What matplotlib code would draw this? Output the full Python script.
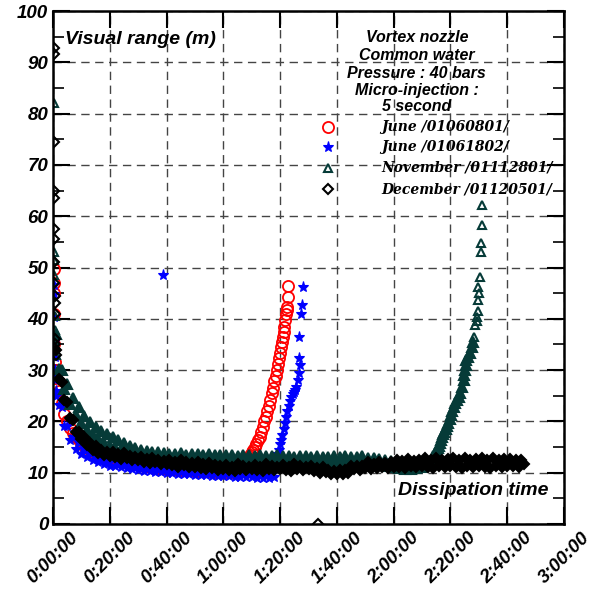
import numpy as np
import matplotlib.pyplot as plt
from matplotlib.ticker import FuncFormatter, MultipleLocator

# time in minutes after the micro-injection, visual range in m

# --- June /01060801/ (red circles)
red_t0 = [0.3, 0.3, 0.4, 0.5, 0.5, 0.6, 0.7, 0.8]
red_v0 = [49.8, 47.0, 45.0, 41.0, 35.0, 31.5, 30.0, 28.5]
red_t1 = list(range(1, 69))
red_v1 = [30.0, 26.0, 23.5, 21.5, 20.0, 18.8, 17.8, 17.0, 16.3, 15.7,
          15.2, 14.8, 14.4, 14.1, 13.8, 13.6, 13.4, 13.2, 13.0, 12.9,
          12.7, 12.6, 12.4, 12.3, 12.1, 12.0, 11.9, 11.8, 11.7, 11.6,
          11.5, 11.4, 11.3, 11.2, 11.1, 11.0, 11.0, 10.9, 10.9, 10.8,
          10.8, 10.7, 10.7, 10.6, 10.6, 10.6, 10.5, 10.5, 10.5, 10.4,
          10.4, 10.4, 10.3, 10.3, 10.3, 10.3, 10.2, 10.2, 10.2, 10.2,
          10.2, 10.2, 10.2, 10.2, 10.2, 10.3, 10.4, 10.6]
red_t2 = [68.5, 69.0, 69.5, 70.0, 70.5, 71.0, 71.5, 72.2, 72.8, 73.4,
          74.0, 74.5, 75.0, 75.5, 76.0, 76.5, 77.0, 77.5, 78.0, 78.5,
          79.0, 79.4, 79.7, 80.0, 80.3, 80.6, 80.9, 81.2, 81.4, 81.7,
          82.0, 82.3, 82.5, 82.8, 82.8]
red_v2 = [12.0, 12.8, 13.5, 14.0, 14.4, 15.0, 15.6, 16.3, 17.0, 18.0,
          19.0, 20.0, 20.9, 22.0, 23.0, 24.2, 25.5, 26.6, 27.8, 28.9,
          30.0, 31.2, 32.3, 33.4, 34.5, 35.5, 36.5, 37.5, 38.4, 39.7,
          41.0, 41.7, 42.3, 44.2, 46.4]

# --- June /01061802/ (blue stars)
blue_t0 = [0.3, 0.3, 0.4, 0.5, 0.6, 0.7, 0.8, 0.9, 1.2]
blue_v0 = [46.5, 44.8, 40.3, 35.5, 32.5, 30.0, 28.0, 26.0, 25.0]
blue_t1 = list(range(1, 79))
blue_v1 = [28.8, 23.2, 22.8, 19.2, 19.1, 16.4, 17.0, 14.7, 15.7, 13.6,
           14.6, 13.1, 13.9, 12.4, 13.4, 12.0, 13.0, 11.7, 12.7, 11.4,
           12.4, 11.3, 12.2, 11.1, 12.0, 10.9, 11.8, 10.7, 11.6, 10.5,
           11.4, 10.4, 11.3, 10.3, 11.2, 10.2, 11.1, 10.1, 11.0, 10.0,
           10.9, 9.9, 10.8, 9.8, 10.7, 9.8, 10.7, 9.7, 10.6, 9.6,
           10.5, 9.6, 10.5, 9.5, 10.4, 9.4, 10.3, 9.4, 10.3, 9.3,
           10.2, 9.3, 10.2, 9.2, 10.1, 9.2, 10.1, 9.1, 10.0, 9.1,
           10.0, 9.0, 9.9, 9.0, 9.9, 9.0, 9.8, 9.2]
blue_t2 = [38.6, 78.6, 79.0, 79.5, 80.0, 80.4, 80.8, 81.2, 81.6, 82.0,
           82.5, 83.0, 83.5, 83.9, 84.4, 84.8, 85.2, 85.6, 86.2, 86.7,
           86.9, 86.7, 86.7, 87.4, 87.7, 88.0]
blue_v2 = [48.5, 13.0, 13.7, 14.5, 15.5, 16.4, 17.4, 18.5, 19.7, 20.9,
           22.0, 23.0, 24.0, 24.8, 25.3, 25.8, 26.2, 26.7, 28.0, 29.4,
           31.0, 32.4, 36.5, 41.0, 42.7, 46.2]

# --- November /01112801/ (dark teal triangles)
teal_t0 = [0.4, 0.3, 0.4, 0.5, 0.6, 0.7, 0.8, 0.9]
teal_v0 = [82.0, 53.0, 51.5, 48.5, 40.5, 37.8, 35.0, 33.0]
teal_t1 = list(range(1, 131))
teal_v1 = [37.0, 30.3, 30.0, 26.3, 27.2, 23.3, 24.5, 21.3, 22.8, 19.6,
           21.1, 18.4, 19.9, 17.3, 18.9, 16.5, 18.1, 15.8, 17.5, 15.2,
           16.9, 14.8, 16.3, 14.2, 15.7, 13.7, 15.3, 13.3, 14.9, 13.0,
           14.5, 13.0, 14.3, 12.8, 14.1, 12.6, 14.0, 12.5, 13.9, 12.4,
           13.7, 12.4, 13.6, 12.3, 13.8, 12.3, 13.5, 12.2, 13.6, 12.3,
           13.6, 12.2, 13.5, 12.3, 13.7, 12.1, 13.4, 12.2, 13.5, 12.2,
           13.4, 12.2, 13.5, 12.1, 13.3, 12.2, 13.4, 12.1, 13.5, 12.2,
           13.3, 12.1, 13.4, 12.0, 13.2, 12.1, 13.3, 12.0, 13.4, 12.1,
           13.2, 12.0, 13.3, 11.9, 13.1, 12.0, 13.2, 11.9, 13.3, 12.0,
           13.1, 11.9, 13.2, 11.8, 13.0, 11.9, 13.1, 11.8, 13.2, 11.9,
           13.1, 11.9, 13.2, 11.8, 13.0, 11.9, 13.1, 11.8, 13.2, 11.9,
           12.9, 11.7, 12.8, 11.6, 12.6, 11.5, 12.5, 11.3, 12.3, 11.2,
           12.0, 11.0, 11.8, 10.8, 11.7, 10.8, 11.6, 10.9, 11.8, 11.2]
teal_t2 = [131.0, 132.0, 133.3, 134.0, 134.7, 135.1, 135.5, 135.9, 136.3, 136.8,
           137.2, 137.5, 137.9, 138.3, 138.8, 139.3, 139.8, 140.2, 140.7, 141.1,
           141.7, 142.3, 142.9, 143.5, 144.1, 144.6, 144.9, 145.1, 145.4, 145.6,
           146.3, 147.0, 147.5, 148.0]
teal_v2 = [11.5, 12.0, 12.5, 13.2, 13.8, 14.3, 14.8, 15.3, 15.8, 16.4,
           17.0, 17.5, 18.0, 18.6, 19.2, 19.7, 20.4, 21.2, 22.0, 22.8,
           23.5, 24.2, 24.8, 25.5, 26.8, 28.1, 29.0, 30.0, 31.0, 32.0,
           32.6, 33.3, 34.5, 35.5]
teal_t3 = [148.4, 148.8, 149.2, 149.5, 149.6, 149.8, 149.9, 149.8, 150.5, 150.9,
           150.9, 151.2, 151.2]
teal_v3 = [36.5, 38.8, 39.5, 40.4, 41.5, 43.7, 45.0, 46.2, 48.1, 53.0,
           54.8, 58.3, 62.2]

# --- December /01120501/ (black diamonds)
black_t0 = [0.3, 0.3, 0.4, 0.3, 0.4, 0.3, 0.4, 0.5, 0.5, 0.6, 0.6, 0.7, 0.8, 0.8, 0.9, 93.3]
black_v0 = [92.8, 91.6, 74.5, 65.0, 63.5, 57.5, 55.5, 51.0, 47.0, 44.5,
            43.0, 41.0, 36.0, 35.0, 33.0, 0.0]
black_t1 = list(range(1, 167))
black_v1 = [34.0, 28.2, 27.6, 24.2, 23.8, 20.6, 20.2, 18.0, 18.0, 16.6,
            17.0, 15.4, 15.7, 14.5, 15.3, 13.9, 14.5, 13.5, 14.0, 13.3,
            14.1, 13.1, 13.6, 12.7, 13.8, 12.9, 13.3, 12.4, 13.0, 12.4,
            13.1, 12.1, 12.7, 11.8, 12.9, 12.1, 12.5, 11.6, 12.3, 11.7,
            12.5, 11.5, 12.1, 11.2, 12.4, 11.5, 12.0, 11.1, 11.8, 11.2,
            12.0, 11.0, 11.6, 10.7, 11.9, 11.0, 11.5, 10.6, 11.3, 10.8,
            11.5, 10.6, 11.2, 10.4, 11.6, 10.8, 11.3, 10.5, 11.1, 10.7,
            11.5, 10.6, 11.2, 10.4, 11.6, 10.8, 11.3, 10.5, 11.1, 10.7,
            11.5, 10.6, 11.2, 10.4, 11.6, 10.8, 11.3, 10.5, 11.1, 10.7,
            11.4, 10.4, 10.9, 10.0, 11.1, 10.2, 10.6, 9.7, 10.4, 9.8,
            10.6, 9.8, 10.5, 9.9, 11.3, 10.7, 11.3, 10.6, 11.4, 11.0,
            12.0, 10.8, 11.7, 10.9, 12.1, 11.1, 11.9, 11.0, 12.0, 11.2,
            12.4, 11.1, 12.2, 11.0, 12.6, 11.4, 12.3, 11.2, 12.5, 11.4,
            12.8, 11.2, 12.4, 11.0, 12.9, 11.4, 12.5, 11.1, 12.7, 11.3,
            12.8, 11.2, 12.4, 11.0, 12.9, 11.4, 12.5, 11.1, 12.7, 11.3,
            12.8, 11.2, 12.4, 11.0, 12.9, 11.4, 12.5, 11.1, 12.7, 11.3,
            12.6, 11.3, 12.5, 11.2, 12.4, 11.6]

red = '#ff0000'
blue = '#0000ff'
teal = '#063b38'

red_style = dict(marker='o', ms=8, mfc='none', mec=red, mew=1.3)
blue_style = dict(marker='*', ms=8, mfc=blue, mec=blue, mew=0.8)
teal_style = dict(marker='^', ms=6, mfc='none', mec=teal, mew=1.5)
black_style = dict(marker='D', ms=5, mfc='none', mec='black', mew=1.5)
# overplotted stretches look solid in the original
teal_dense = dict(teal_style, mfc=teal, ms=6.5)
black_dense = dict(black_style, mfc='black', ms=5.5)

fig = plt.figure(figsize=(6.04, 5.95), dpi=100)
ax = fig.add_axes([53/604, 71/595, 511/604, 513/595])

def pts(t, v, style):
    ax.plot(t, v, linestyle='none', **style)

pts(red_t1, red_v1, red_style)
pts(red_t2, red_v2, red_style)
pts(red_t0, red_v0, red_style)
pts(blue_t1, blue_v1, blue_style)
pts(blue_t2, blue_v2, blue_style)
pts(blue_t0, blue_v0, blue_style)
pts(teal_t1, teal_v1, teal_dense)
pts(teal_t2, teal_v2, teal_dense)
pts(teal_t3, teal_v3, teal_style)
pts(teal_t0, teal_v0, teal_style)
pts(black_t1, black_v1, black_dense)
pts(black_t0, black_v0, black_style)

ax.set_xlim(0, 180)
ax.set_ylim(0, 100)
ax.xaxis.set_major_locator(MultipleLocator(20))
ax.yaxis.set_major_locator(MultipleLocator(10))
ax.yaxis.set_minor_locator(MultipleLocator(5))
ax.xaxis.set_major_formatter(FuncFormatter(lambda x, p: '%d:%02d:00' % (int(x) // 60, int(x) % 60)))

ax.grid(True, which='major', color='#444444', linestyle=(0, (6, 4)), linewidth=1.0)
ax.set_axisbelow(True)
for s in ax.spines.values():
    s.set_linewidth(1.8)
ax.tick_params(which='major', direction='in', length=12, width=1.5, top=True, right=True)
ax.tick_params(which='minor', direction='in', length=8, width=1.2, right=True, left=True)

tick_font = dict(family='Liberation Sans', weight='bold', style='italic', size=13.5)
for lab in ax.get_yticklabels():
    lab.set(**tick_font)
for lab in ax.get_xticklabels():
    lab.set(**tick_font)
    lab.set_rotation(45)
    lab.set_ha('center')

sans = dict(family='Liberation Sans', weight='bold', style='italic')
ax.text(0.023, 0.945, 'Visual range (m)', transform=ax.transAxes, ha='left', va='center', size=14, **sans)
ax.text(0.969, 0.066, 'Dissipation time', transform=ax.transAxes, ha='right', va='center', size=14, **sans)

for y, s in zip([0.949, 0.914, 0.879, 0.846, 0.813],
                ['Vortex nozzle', 'Common water', 'Pressure : 40 bars', 'Micro-injection :', '5 second']):
    ax.text(0.712, y, s, transform=ax.transAxes, ha='center', va='center', size=11.5, **sans)

labels = ['June /01060801/', 'June /01061802/', 'November /01112801/', 'December /01120501/']
legend_styles = [dict(marker='o', ms=8, mfc='none', mec=red, mew=1.3),
                 dict(marker='*', ms=8, mfc=blue, mec=blue, mew=0.8),
                 dict(marker='^', ms=6, mfc='none', mec=teal, mew=1.5),
                 dict(marker='D', ms=5, mfc='none', mec='black', mew=1.5)]
for y, lab, st in zip([0.774, 0.735, 0.694, 0.653], labels, legend_styles):
    ax.plot([0.538], [y], transform=ax.transAxes, linestyle='none', clip_on=False, **st)
    ax.text(0.643, y, lab, transform=ax.transAxes, ha='left', va='center', size=10,
            family='DejaVu Serif', weight='bold', style='italic')

fig.savefig('out.png', dpi=100)
